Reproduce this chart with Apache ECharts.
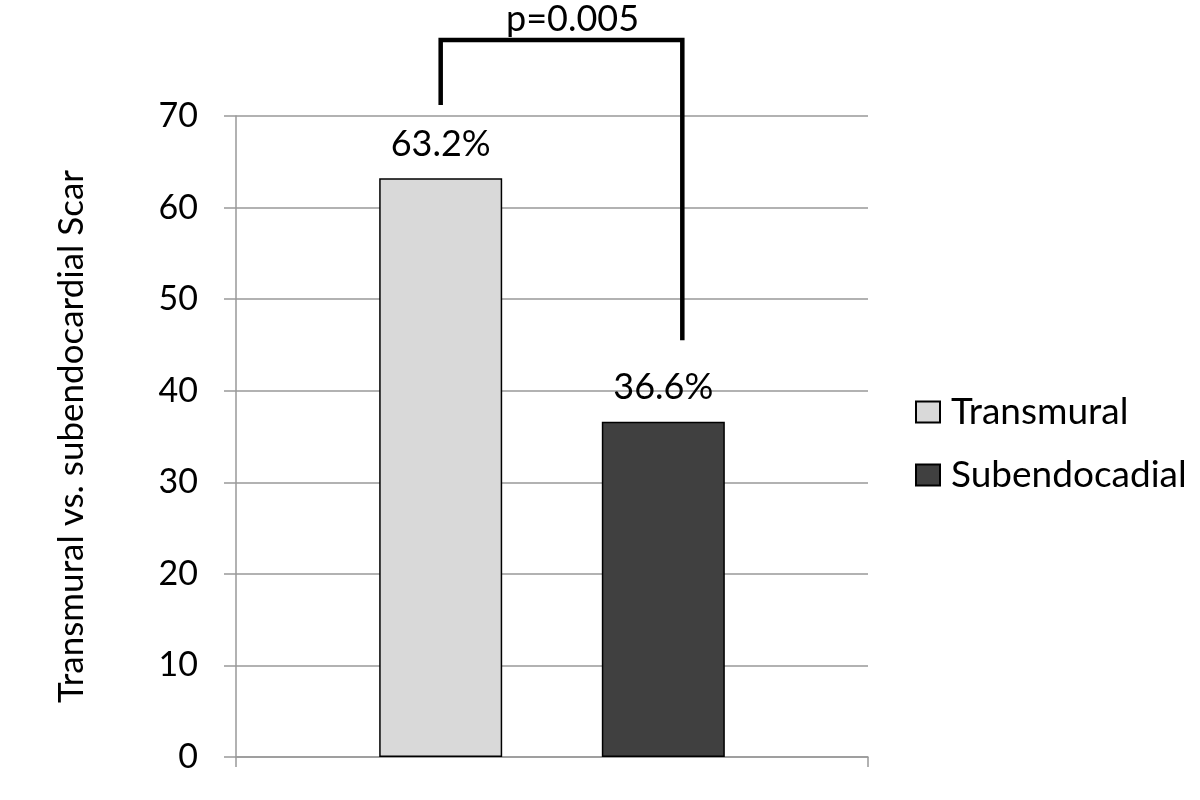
<!DOCTYPE html>
<html><head><meta charset="utf-8">
<script src="https://cdn.jsdelivr.net/npm/echarts@6/dist/echarts.min.js"></script>
<style>html,body{margin:0;padding:0;background:#fff}#c{width:1200px;height:800px}</style>
</head><body><div id="c"></div>
<script>
const categories = [''];
const seriesNames = ['Transmural', 'Subendocadial'];
const transmural = [63.2];
const subendocardial = [36.6];
const yTicks = [0, 10, 20, 30, 40, 50, 60, 70];
const pLabel = 'p=0.005';
// bracket levels in data units: left leg bottom, top bar, right leg bottom
const bracketLevels = [71.2, 78.3, 45.5];

const FONT = 'Lato';
const chart = echarts.init(document.getElementById('c'), null, {renderer: 'canvas'});
const option = {
  animation: false,
  backgroundColor: '#fff',
  textStyle: {fontFamily: FONT, color: '#000'},
  grid: {left: 236, right: 332, top: 116, bottom: 43, containLabel: false},
  legend: {
    orient: 'vertical', left: 915, top: 393, padding: 0,
    icon: 'rect',
    itemWidth: 24, itemHeight: 21, itemGap: 25,
    textStyle: {fontFamily: FONT, fontSize: 37, color: '#000', lineHeight: 38, padding: [0, 0, 0, 6]},
    data: seriesNames
  },
  xAxis: {
    type: 'category', data: categories, boundaryGap: true,
    axisLine: {show: true, lineStyle: {color: '#999', width: 1.5}},
    axisTick: {show: true, length: 10, lineStyle: {color: '#999', width: 1.5}},
    axisLabel: {show: false}
  },
  yAxis: {
    type: 'value', min: yTicks[0], max: yTicks[yTicks.length - 1], interval: 10,
    name: 'Transmural vs. subendocardial Scar', nameLocation: 'middle', nameGap: 147, nameRotate: 90,
    nameTextStyle: {fontFamily: FONT, fontSize: 35, color: '#000'},
    axisLine: {show: true, lineStyle: {color: '#999', width: 1.5}},
    axisTick: {show: true, length: 12, lineStyle: {color: '#999', width: 1.5}},
    axisLabel: {fontFamily: FONT, fontSize: 34, color: '#000', margin: 38},
    splitLine: {show: true, lineStyle: {color: '#999', width: 1.5}}
  },
  series: [
    {name: seriesNames[0], type: 'bar', data: transmural, barWidth: 123, barGap: '81%',
     itemStyle: {color: '#d9d9d9', borderColor: '#000', borderWidth: 1.5},
     label: {show: true, position: 'top', distance: 16, formatter: p => p.value.toFixed(1) + '%', fontFamily: FONT, fontSize: 36, color: '#000'}},
    {name: seriesNames[1], type: 'bar', data: subendocardial, barWidth: 123,
     itemStyle: {color: '#404040', borderColor: '#000', borderWidth: 1.5},
     label: {show: true, position: 'top', distance: 16, formatter: p => p.value.toFixed(1) + '%', fontFamily: FONT, fontSize: 36, color: '#000'}}
  ]
};
chart.setOption(option);

// bracket built from the chart's own y scale and the bar layout
const layout1 = chart.getModel().getSeriesByIndex(0).getData().getItemLayout(0);
const layout2 = chart.getModel().getSeriesByIndex(1).getData().getItemLayout(0);
const xL = layout1.x + layout1.width / 2;
const xR = layout2.x + layout2.width / 2 + 19;
const yA = chart.convertToPixel({yAxisIndex: 0}, bracketLevels[0]);
const yTop = chart.convertToPixel({yAxisIndex: 0}, bracketLevels[1]);
const yB = chart.convertToPixel({yAxisIndex: 0}, bracketLevels[2]);
chart.setOption({
  graphic: [
    {type: 'polyline', shape: {points: [[xL, yA], [xL, yTop], [xR, yTop], [xR, yB]]},
     style: {stroke: '#000', lineWidth: 4.5, fill: null, lineJoin: 'miter'}, z: 10},
    {type: 'text', x: (xL + xR) / 2 + 11, y: yTop - 21,
     style: {text: pLabel, fontFamily: FONT, fontSize: 36, fill: '#000', align: 'center', verticalAlign: 'middle'}, z: 10}
  ]
});
</script></body></html>
